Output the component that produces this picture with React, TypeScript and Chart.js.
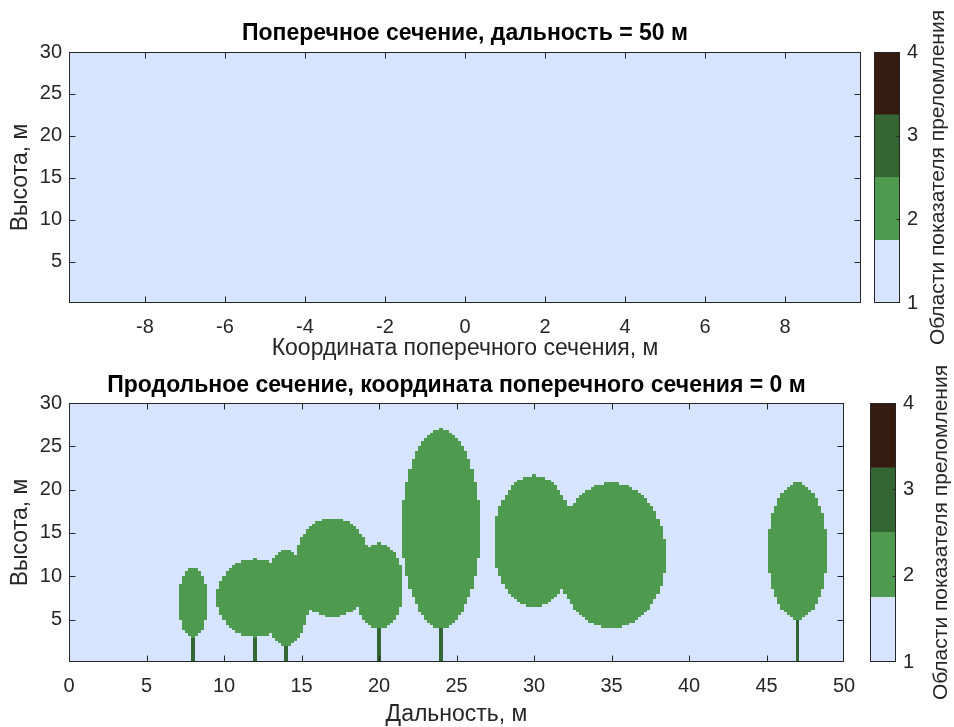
import React, { useEffect, useRef } from 'react';
import { Chart, registerables } from 'chart.js';

Chart.register(...registerables);

const FONT = '"Liberation Sans", Arial, Helvetica, sans-serif';
const AXIS_COLOR = '#262626';

// Refraction-index regions (colour map of the colour bar)
const REGION_VALUES = [1, 2, 3, 4];
const REGION_COLORS = ['#D6E4FF', '#4E9A4E', '#336633', '#361C10'];
const COLORBAR_TICKS = [1, 2, 3, 4];

// Trees along the range axis (m)
const TREE_RANGE = [8, 12, 14, 17, 20, 24, 30, 35, 47];
const CROWN_CENTER_HEIGHT = [7, 7.5, 7.5, 11, 8.9, 15.5, 14, 12.4, 12.9];
const CROWN_HALF_WIDTH = [0.95, 2.45, 1.5, 2.5, 1.6, 2.5, 2.6, 3.5, 1.9];
const CROWN_HALF_HEIGHT = [4, 4.5, 5.5, 5.7, 4.9, 11.5, 7.6, 8.4, 7.9];
const HAS_TRUNK = [true, true, true, false, true, true, false, false, true];

// Section positions
const CROSS_SECTION_RANGE = 50;
const LONG_SECTION_CROSS = 0;

// Grid steps (m)
const CELL_DX = 0.2;
const CELL_DZ = 0.3;

// Axes
const TOP_X_TICKS = [-8, -6, -4, -2, 0, 2, 4, 6, 8];
const BOTTOM_X_TICKS = [0, 5, 10, 15, 20, 25, 30, 35, 40, 45, 50];
const HEIGHT_TICKS = [5, 10, 15, 20, 25, 30];
const TOP_X_LIMITS = [-9.9, 9.9];
const BOTTOM_X_LIMITS = [0, 50];
const HEIGHT_LIMITS = [0.1, 30];

const TOP_TITLE = 'Поперечное сечение, дальность = 50 м';
const BOTTOM_TITLE = 'Продольное сечение, координата поперечного сечения = 0 м';
const TOP_XLABEL = 'Координата поперечного сечения, м';
const BOTTOM_XLABEL = 'Дальность, м';
const YLABEL = 'Высота, м';
const CBAR_LABEL = 'Области показателя преломления';

const TICK_SIZE = 20;
const LABEL_SIZE = 23;
const TITLE_SIZE = 23;
const CBAR_LABEL_SIZE = 21;

function regionAt(range: number, cross: number, h: number): number {
  for (let i = 0; i < TREE_RANGE.length; i++) {
    const a = CROWN_HALF_WIDTH[i];
    const b = CROWN_HALF_HEIGHT[i];
    const q =
      ((range - TREE_RANGE[i]) / a) ** 2 +
      (cross / a) ** 2 +
      ((h - CROWN_CENTER_HEIGHT[i]) / b) ** 2;
    if (q <= 1) return 2;
  }
  for (let i = 0; i < TREE_RANGE.length; i++) {
    if (!HAS_TRUNK[i]) continue;
    const bottom = CROWN_CENTER_HEIGHT[i] - CROWN_HALF_HEIGHT[i];
    if (
      Math.abs(range - TREE_RANGE[i]) < CELL_DX / 2 &&
      Math.abs(cross) < CELL_DX / 2 &&
      h <= bottom
    )
      return 3;
  }
  return 1;
}

type Cell = { x: number; y: number; v: number };

function buildCells(kind: 'cross' | 'long'): Cell[] {
  const cells: Cell[] = [];
  const nz = Math.round(30 / CELL_DZ);
  if (kind === 'long') {
    const nx = Math.round(50 / CELL_DX);
    for (let k = 0; k <= nx; k++) {
      const r = k * CELL_DX;
      for (let j = 0; j <= nz; j++) {
        const h = j * CELL_DZ;
        const v = regionAt(r, LONG_SECTION_CROSS, h);
        if (v !== 1) cells.push({ x: r, y: h, v });
      }
    }
  } else {
    const half = Math.round(10 / CELL_DX);
    for (let k = -half; k <= half; k++) {
      const c = k * CELL_DX;
      for (let j = 0; j <= nz; j++) {
        const h = j * CELL_DZ;
        const v = regionAt(CROSS_SECTION_RANGE, c, h);
        if (v !== 1) cells.push({ x: c, y: h, v });
      }
    }
  }
  return cells;
}

function colorFor(v: number): string {
  const lo = REGION_VALUES[0];
  const hi = REGION_VALUES[REGION_VALUES.length - 1];
  const n = REGION_COLORS.length;
  let idx = Math.floor(((v - lo) / (hi - lo)) * n);
  if (idx >= n) idx = n - 1;
  if (idx < 0) idx = 0;
  return REGION_COLORS[idx];
}

const heatPlugin = {
  id: 'heatCells',
  beforeDatasetsDraw(chart: any) {
    const { ctx, chartArea: a, scales } = chart;
    const x = scales.x;
    const y = scales.y;
    ctx.save();
    ctx.beginPath();
    ctx.rect(a.left, a.top, a.right - a.left, a.bottom - a.top);
    ctx.clip();
    ctx.fillStyle = colorFor(REGION_VALUES[0]);
    ctx.fillRect(a.left, a.top, a.right - a.left, a.bottom - a.top);
    const cells = chart.data.datasets[0].data as Cell[];
    for (const c of cells) {
      const x0 = Math.round(x.getPixelForValue(c.x - CELL_DX / 2));
      const x1 = Math.round(x.getPixelForValue(c.x + CELL_DX / 2));
      const y0 = Math.round(y.getPixelForValue(c.y + CELL_DZ / 2));
      const y1 = Math.round(y.getPixelForValue(c.y - CELL_DZ / 2));
      ctx.fillStyle = colorFor(c.v);
      ctx.fillRect(x0, y0, Math.max(1, x1 - x0), Math.max(1, y1 - y0));
    }
    ctx.restore();
  },
};

function frameAndTicks(chart: any, tickLen: number, xTicks: boolean, yBothSides: boolean) {
  const { ctx, chartArea: a, scales } = chart;
  const L = Math.floor(a.left) + 0.5;
  const R = Math.floor(a.right) - 0.5;
  const T = Math.floor(a.top) + 0.5;
  const B = Math.floor(a.bottom) - 0.5;
  ctx.save();
  ctx.strokeStyle = AXIS_COLOR;
  ctx.lineWidth = 1;
  ctx.beginPath();
  if (xTicks && scales.x) {
    for (const t of scales.x.ticks) {
      const px = Math.round(scales.x.getPixelForValue(t.value)) + 0.5;
      if (px <= L + 1 || px >= R - 1) continue;
      ctx.moveTo(px, B);
      ctx.lineTo(px, B - tickLen);
      ctx.moveTo(px, T);
      ctx.lineTo(px, T + tickLen);
    }
  }
  const ys = scales.y;
  for (const t of ys.ticks) {
    const py = Math.round(ys.getPixelForValue(t.value)) + 0.5;
    if (py <= T + 1 || py >= B - 1) continue;
    if (yBothSides) {
      ctx.moveTo(L, py);
      ctx.lineTo(L + tickLen, py);
    }
    ctx.moveTo(R, py);
    ctx.lineTo(R - tickLen, py);
  }
  ctx.stroke();
  ctx.strokeRect(L, T, R - L, B - T);
  ctx.restore();
}

const framePlugin = {
  id: 'matFrame',
  afterDraw(chart: any) {
    frameAndTicks(chart, 6, true, true);
  },
};

type PanelSpec = {
  kind: 'cross' | 'long';
  title: string;
  xLabel: string;
  xTicks: number[];
  xLimits: number[];
  padRight: number;
  titlePadTop: number;
  titlePadBottom: number;
  xAxisHeight: number;
  xTitlePadBottom: number;
};

function makePanelConfig(p: PanelSpec): any {
  const tickFont = { family: FONT, size: TICK_SIZE, lineHeight: 1.2 };
  const labelFont = { family: FONT, size: LABEL_SIZE, lineHeight: 1.2 };
  return {
    type: 'scatter',
    data: {
      datasets: [
        {
          data: buildCells(p.kind),
          pointRadius: 0,
          pointHoverRadius: 0,
          showLine: false,
        },
      ],
    },
    options: {
      responsive: false,
      animation: false,
      devicePixelRatio: 1,
      events: [],
      layout: { padding: { left: 0, right: p.padRight, top: 0, bottom: 0 } },
      plugins: {
        legend: { display: false },
        tooltip: { enabled: false },
        title: {
          display: true,
          text: p.title,
          fullSize: false,
          color: '#000000',
          font: { family: FONT, size: TITLE_SIZE, weight: 'bold', lineHeight: 1.2 },
          padding: { top: p.titlePadTop, bottom: p.titlePadBottom },
        },
      },
      scales: {
        x: {
          type: 'linear',
          min: p.xLimits[0],
          max: p.xLimits[1],
          afterBuildTicks: (s: any) => {
            s.ticks = p.xTicks.map((v) => ({ value: v }));
          },
          afterFit: (s: any) => {
            s.height = p.xAxisHeight;
          },
          grid: { display: false, drawTicks: false },
          border: { display: false },
          ticks: {
            font: tickFont,
            color: AXIS_COLOR,
            padding: 12,
            maxRotation: 0,
            autoSkip: false,
          },
          title: {
            display: true,
            text: p.xLabel,
            font: labelFont,
            color: AXIS_COLOR,
            padding: { top: 0, bottom: p.xTitlePadBottom },
          },
        },
        y: {
          type: 'linear',
          min: HEIGHT_LIMITS[0],
          max: HEIGHT_LIMITS[1],
          afterBuildTicks: (s: any) => {
            s.ticks = HEIGHT_TICKS.map((v) => ({ value: v }));
          },
          afterFit: (s: any) => {
            s.width = 69;
          },
          grid: { display: false, drawTicks: false },
          border: { display: false },
          ticks: {
            font: tickFont,
            color: AXIS_COLOR,
            padding: 7,
            autoSkip: false,
          },
          title: {
            display: true,
            text: YLABEL,
            font: labelFont,
            color: AXIS_COLOR,
            padding: { top: 6.7, bottom: 0 },
          },
        },
      },
    },
    plugins: [heatPlugin, framePlugin],
  };
}

type CbarSpec = {
  width: number;
  padTop: number;
  padBottom: number;
  labelX: number;
};

function makeColorbarConfig(c: CbarSpec): any {
  const lo = REGION_VALUES[0];
  const hi = REGION_VALUES[REGION_VALUES.length - 1];
  const step = (hi - lo) / REGION_COLORS.length;
  const cbarPlugin = {
    id: 'cbarFrame',
    afterDraw(chart: any) {
      frameAndTicks(chart, 3, false, false);
      const { ctx, chartArea: a } = chart;
      ctx.save();
      ctx.translate(c.labelX, (a.top + a.bottom) / 2);
      ctx.rotate(-Math.PI / 2);
      ctx.font = `${CBAR_LABEL_SIZE}px ${FONT}`;
      ctx.fillStyle = AXIS_COLOR;
      ctx.textAlign = 'center';
      ctx.textBaseline = 'middle';
      ctx.fillText(CBAR_LABEL, 0, 0);
      ctx.restore();
    },
  };
  return {
    type: 'bar',
    data: {
      labels: [''],
      datasets: REGION_COLORS.map((col, i) => ({
        data: [[lo + i * step, lo + (i + 1) * step]],
        backgroundColor: col,
        borderWidth: 0,
        barPercentage: 1,
        categoryPercentage: 1,
        grouped: false,
      })),
    },
    options: {
      responsive: false,
      animation: false,
      devicePixelRatio: 1,
      events: [],
      layout: { padding: { left: 14, right: 0, top: c.padTop, bottom: c.padBottom } },
      plugins: { legend: { display: false }, tooltip: { enabled: false }, title: { display: false } },
      scales: {
        x: { display: false },
        y: {
          position: 'right',
          min: lo,
          max: hi,
          afterBuildTicks: (s: any) => {
            s.ticks = COLORBAR_TICKS.map((v) => ({ value: v }));
          },
          afterFit: (s: any) => {
            s.width = c.width - 14 - 26;
          },
          grid: { display: false, drawTicks: false },
          border: { display: false },
          ticks: { font: { family: FONT, size: TICK_SIZE }, color: AXIS_COLOR, padding: 7, autoSkip: false },
        },
      },
    },
    plugins: [cbarPlugin],
  };
}

function ChartCanvas(props: { left: number; top: number; width: number; height: number; config: () => any }) {
  const ref = useRef<HTMLCanvasElement | null>(null);
  useEffect(() => {
    if (!ref.current) return;
    const chart = new Chart(ref.current, props.config());
    return () => chart.destroy();
  }, []);
  return (
    <canvas
      ref={ref}
      width={props.width}
      height={props.height}
      style={{
        position: 'absolute',
        left: props.left,
        top: props.top,
        width: props.width,
        height: props.height,
      }}
    />
  );
}

export default function App() {
  return (
    <div
      style={{
        position: 'fixed',
        left: 0,
        top: 0,
        width: 954,
        height: 727,
        background: '#ffffff',
        overflow: 'hidden',
      }}
    >
      <ChartCanvas
        left={0}
        top={0}
        width={870}
        height={370}
        config={() =>
          makePanelConfig({
            kind: 'cross',
            title: TOP_TITLE,
            xLabel: TOP_XLABEL,
            xTicks: TOP_X_TICKS,
            xLimits: TOP_X_LIMITS,
            padRight: 9,
            titlePadTop: 20.2,
            titlePadBottom: 4.2,
            xAxisHeight: 67,
            xTitlePadBottom: 7.8,
          })
        }
      />
      <ChartCanvas
        left={0}
        top={370}
        width={870}
        height={357}
        config={() =>
          makePanelConfig({
            kind: 'long',
            title: BOTTOM_TITLE,
            xLabel: BOTTOM_XLABEL,
            xTicks: BOTTOM_X_TICKS,
            xLimits: BOTTOM_X_LIMITS,
            padRight: 26,
            titlePadTop: 2.2,
            titlePadBottom: 3.2,
            xAxisHeight: 65,
            xTitlePadBottom: -1.5,
          })
        }
      />
      <ChartCanvas
        left={860}
        top={0}
        width={94}
        height={355}
        config={() => makeColorbarConfig({ width: 94, padTop: 52, padBottom: 52, labelX: 78.5 })}
      />
      <ChartCanvas
        left={856}
        top={355}
        width={98}
        height={372}
        config={() => makeColorbarConfig({ width: 98, padTop: 48, padBottom: 65, labelX: 85 })}
      />
    </div>
  );
}
